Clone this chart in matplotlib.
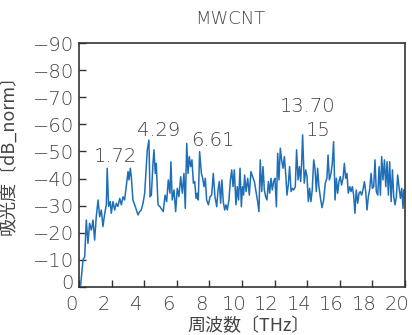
import matplotlib
matplotlib.use('Agg')
import matplotlib.pyplot as plt
import matplotlib.transforms as mtransforms

# absorbance spectrum of MWCNT (dB_norm, negative)
freq_thz = [
    0.10, 0.25, 0.35, 0.45, 0.55, 0.65, 0.76, 0.86, 0.96, 1.06,
    1.17, 1.27, 1.37, 1.47, 1.58, 1.68, 1.73, 1.82, 1.92, 1.98,
    2.09, 2.19, 2.29, 2.39, 2.50, 2.60, 2.70, 2.80, 2.90, 3.01,
    3.07, 3.15, 3.21, 3.31, 3.42, 3.52, 3.62, 3.72, 3.82, 3.93,
    4.03, 4.13, 4.19, 4.29, 4.36, 4.44, 4.54, 4.60, 4.68, 4.74,
    4.85, 4.97, 5.17, 5.28, 5.38, 5.48, 5.58, 5.64, 5.72, 5.83,
    5.93, 6.03, 6.13, 6.24, 6.34, 6.44, 6.52, 6.61, 6.69, 6.77,
    6.85, 6.93, 7.02, 7.10, 7.18, 7.26, 7.32, 7.40, 7.51, 7.59,
    7.67, 7.75, 7.83, 7.94, 8.04, 8.14, 8.24, 8.34, 8.45, 8.53,
    8.61, 8.69, 8.77, 8.85, 8.94, 9.02, 9.10, 9.20, 9.29, 9.37,
    9.45, 9.53, 9.63, 9.71, 9.79, 9.88, 9.96, 10.03, 10.10, 10.16,
    10.25, 10.35, 10.45, 10.55, 10.65, 10.76, 10.86, 10.96, 11.04, 11.12,
    11.21, 11.29, 11.37, 11.45, 11.53, 11.62, 11.70, 11.78, 11.86, 11.94,
    12.02, 12.11, 12.19, 12.27, 12.35, 12.43, 12.52, 12.60, 12.68, 12.76,
    12.84, 12.92, 13.01, 13.09, 13.17, 13.27, 13.35, 13.44, 13.52, 13.60,
    13.66, 13.72, 13.82, 13.91, 13.99, 14.07, 14.15, 14.23, 14.31, 14.40,
    14.48, 14.56, 14.64, 14.72, 14.83, 14.91, 15.01, 15.11, 15.21, 15.28,
    15.36, 15.46, 15.54, 15.62, 15.71, 15.79, 15.87, 15.95, 16.03, 16.11,
    16.20, 16.28, 16.36, 16.44, 16.52, 16.61, 16.69, 16.77, 16.85, 16.93,
    17.01, 17.10, 17.18, 17.26, 17.34, 17.42, 17.51, 17.59, 17.67, 17.75,
    17.83, 17.92, 18.00, 18.08, 18.16, 18.24, 18.33, 18.41, 18.49, 18.57,
    18.65, 18.74, 18.82, 18.90, 18.98, 19.06, 19.15, 19.23, 19.31, 19.39,
    19.47, 19.55, 19.63, 19.72, 19.80, 19.88, 19.93,
]
absorbance = [
    -0.7, -10.0, -11.2, -24.7, -16.1, -23.5, -21.0, -24.7, -17.3, -25.9,
    -32.1, -25.9, -28.4, -22.3, -27.2, -30.3, -43.8, -29.7, -31.5, -27.2,
    -31.5, -28.4, -30.9, -29.7, -32.7, -30.3, -33.3, -32.1, -37.0, -42.6,
    -39.5, -43.8, -40.7, -32.1, -30.3, -28.4, -26.6, -27.8, -28.4, -30.9,
    -34.6, -44.4, -50.6, -54.2, -33.3, -33.9, -45.6, -50.6, -41.9, -45.6,
    -30.3, -29.6, -27.8, -33.9, -31.5, -39.5, -34.6, -46.2, -32.1, -35.8,
    -27.8, -36.4, -33.3, -40.7, -34.6, -41.9, -29.0, -53.0, -41.9, -48.1,
    -44.4, -46.9, -38.3, -38.9, -32.7, -34.6, -32.1, -49.9, -41.9, -40.1,
    -37.0, -40.1, -32.1, -30.3, -33.3, -33.9, -41.9, -33.3, -29.6, -35.8,
    -38.9, -30.9, -39.5, -31.5, -28.4, -30.3, -28.4, -32.1, -39.5, -43.2,
    -37.0, -43.2, -30.3, -37.0, -32.1, -43.8, -29.6, -37.0, -33.9, -41.3,
    -35.2, -40.1, -33.9, -42.6, -40.7, -38.9, -35.2, -31.5, -27.8, -46.9,
    -35.2, -44.4, -35.8, -33.3, -32.1, -38.9, -34.6, -40.1, -35.8, -38.9,
    -40.1, -29.6, -49.3, -39.5, -51.2, -46.9, -43.8, -48.1, -41.9, -33.9,
    -37.6, -44.4, -35.2, -36.4, -35.8, -37.0, -50.6, -39.5, -44.4, -38.9,
    -45.6, -56.1, -38.3, -43.2, -40.7, -31.5, -36.4, -31.5, -35.8, -46.9,
    -43.8, -35.2, -43.8, -37.0, -32.1, -29.3, -32.1, -38.3, -40.1, -48.7,
    -39.5, -41.9, -45.6, -53.6, -32.1, -40.1, -34.6, -38.9, -40.7, -37.6,
    -40.1, -45.6, -40.1, -41.9, -34.6, -37.0, -35.2, -37.0, -33.9, -27.2,
    -35.8, -30.9, -34.6, -35.2, -33.9, -35.8, -38.9, -35.2, -28.4, -33.3,
    -35.8, -41.9, -36.4, -37.0, -46.9, -35.2, -33.9, -44.4, -33.9, -48.1,
    -39.5, -46.9, -37.0, -46.2, -33.9, -46.2, -31.5, -43.2, -33.3, -30.3,
    -33.3, -41.3, -37.0, -32.7, -36.4, -29.0, -35.8,
]

# peak labels as they appear on the chart
peak_labels = ['1.72', '4.29', '6.61', '13.70', '15']
label_x = [2.27, 4.9, 8.23, 14.0, 14.66]
label_y = [-48.0, -57.6, -54.0, -66.6, -57.9]

plt.rcParams['font.family'] = ['DejaVu Sans', 'Noto Sans CJK JP']
plt.rcParams['font.weight'] = 'light'
TEXT = '#444444'

fig = plt.figure(figsize=(4.12, 3.35), dpi=100)
ax = fig.add_axes([0.1917, 0.1433, 0.7913, 0.7283])

ax.plot(freq_thz, absorbance, color='#1f6fb8', linewidth=1.1)

for txt, x, y in zip(peak_labels, label_x, label_y):
    ax.text(x, y, txt, ha='center', va='center', fontsize=14, color=TEXT)

ax.set_xlim(0, 20)
ax.set_ylim(0, -90)
ax.set_xticks(range(0, 21, 2))
ax.set_yticks(range(0, -91, -10))
ax.tick_params(direction='in', length=5, width=1, colors='#333333',
               labelcolor=TEXT, labelsize=14, top=False, right=False)
ax.tick_params(axis='x', pad=6)
for s in ax.spines.values():
    s.set_color('#333333')
    s.set_linewidth(1.2)

# x tick labels sit a little left of their ticks in the original
shift = mtransforms.ScaledTranslation(-8 / 100, 0, fig.dpi_scale_trans)
for lab in ax.get_xticklabels():
    lab.set_transform(lab.get_transform() + shift)
# the y "0" is nudged up, clear of the x "0"
ylabs = ax.get_yticklabels()
up = mtransforms.ScaledTranslation(0, 5 / 100, fig.dpi_scale_trans)
ylabs[0].set_transform(ylabs[0].get_transform() + up)

cjk = ['Noto Sans CJK JP', 'DejaVu Sans']
ax.set_xlabel('周波数〔THz〕', fontsize=13, color=TEXT, family=cjk)
ax.xaxis.set_label_coords(0.52, -0.125)
ax.set_ylabel('吸光度〔dB_norm〕', fontsize=13, color=TEXT, family=cjk)
ax.yaxis.set_label_coords(-0.19, 0.56)
fig.text(230 / 412, 1 - 19 / 335, 'MWCNT', ha='center', va='center',
         fontsize=13, color=TEXT)

fig.savefig('out.png', dpi=100)
